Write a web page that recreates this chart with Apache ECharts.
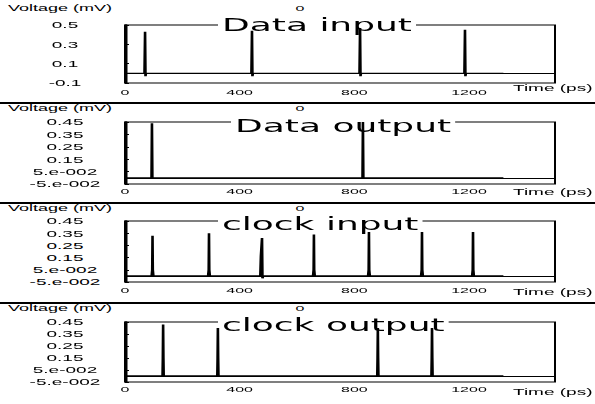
<!DOCTYPE html>
<html>
<head>
<meta charset="utf-8">
<script src="https://cdn.jsdelivr.net/npm/echarts@6/dist/echarts.min.js"></script>
<style>
html,body{margin:0;padding:0;background:#fff;overflow:hidden;}
#main{width:297.5px;height:404px;transform:scaleX(2);transform-origin:0 0;}
</style>
</head>
<body>
<div id="main"></div>
<script>
// ---- data (time in ps, voltage in mV) ----
const panelTitles = ['Data input', 'Data output', 'clock input', 'clock output'];

const dataInTime  = [0, 68, 70, 71.5, 73, 441, 443, 444.5, 446, 818, 820, 821.5, 823, 1184, 1186, 1187.5, 1189, 1320];
const dataInVolt  = [0, 0, 0.43, -0.03, 0, 0, 0.44, -0.03, 0, 0, 0.47, -0.03, 0, 0, 0.45, -0.03, 0, 0];

const dataOutTime = [0, 92.5, 94, 95.5, 828.5, 830, 831.5, 1320];
const dataOutVolt = [0, 0, 0.44, 0, 0, 0.45, 0, 0];

const clockInTime = [0, 93, 95, 96, 97, 99, 290, 292, 293, 294, 296,
                     472, 474, 477, 478, 479.5, 482, 656, 658, 659, 660, 662,
                     848, 850, 851, 852, 854, 1033, 1035, 1036, 1037, 1039,
                     1211, 1213, 1214, 1215, 1217, 1320];
const clockInVolt = [0, 0, 0.05, 0.33, 0.05, 0, 0, 0.05, 0.35, 0.05, 0,
                     0, 0.16, 0.16, 0.31, -0.02, 0, 0, 0.05, 0.34, 0.05, 0,
                     0, 0.05, 0.36, 0.05, 0, 0, 0.05, 0.36, 0.05, 0,
                     0, 0.05, 0.36, 0.05, 0, 0];

const clockOutTime = [0, 131, 132, 133, 134, 135, 322, 323, 324, 325, 326,
                      880, 881, 882, 883, 884, 1069, 1070, 1071, 1072, 1073, 1320];
const clockOutVolt = [0, 0, 0.15, 0.43, 0.15, 0, 0, 0.15, 0.40, 0.15, 0,
                      0, 0.15, 0.40, 0.15, 0, 0, 0.15, 0.40, 0.15, 0, 0];

const xTickValues = [0, 400, 800, 1200];
const xTickLabels = ['0', '400', '800', '1200'];
const yTickValuesA = [-0.1, 0.1, 0.3, 0.5];
const yTickLabelsA = ['-0.1', '0.1', '0.3', '0.5'];
const yTickValuesB = [-0.05, 0.05, 0.15, 0.25, 0.35, 0.45];
const yTickLabelsB = ['-5.e-002', '5.e-002', '0.15', '0.25', '0.35', '0.45'];

const xName = 'Time (ps)';
const yName = 'Voltage (mV)';

// ---- layout ----
const series = [
  [dataInTime, dataInVolt],
  [dataOutTime, dataOutVolt],
  [clockInTime, clockInVolt],
  [clockOutTime, clockOutVolt]
];
const grids = [
  {top: 25, height: 58},
  {top: 122, height: 62},
  {top: 221, height: 61},
  {top: 322, height: 60}
];
const yNameGap = [12.5, 9.5, 8.5, 9.5];
const xNamePad = [9.5, 8.5, 10.5, 10.5];
const xLabelMargin = [5, 3, 4, 3];
const titleLeft = [109, 115.5, 109, 109];
const titleTop = [15, 116, 214, 315];

function lookup(vals, labels) {
  return function (v) {
    for (let i = 0; i < vals.length; i++) {
      if (Math.abs(v - vals[i]) < 1e-6) return labels[i];
    }
    return '';
  };
}

const chart = echarts.init(document.getElementById('main'), null, {renderer: 'svg', width: 297.5, height: 404});
const labelFont = 'Liberation Sans';

const option = {
  backgroundColor: '#fff',
  animation: false,
  title: panelTitles.map((t, i) => ({
    text: t,
    left: titleLeft[i],
    top: titleTop[i],
    z: 1,
    padding: [1, 2, 1, 2],
    backgroundColor: '#fff',
    textStyle: {fontFamily: 'DejaVu Sans', fontSize: 18, fontWeight: 'normal', color: '#000'}
  })),
  grid: grids.map(g => ({
    left: 62.5, right: 20, top: g.top, height: g.height,
    show: true, borderColor: '#000', borderWidth: 1, backgroundColor: 'transparent',
    containLabel: false, outerBoundsMode: 'none'
  })),
  xAxis: grids.map((g, i) => ({
    type: 'value', gridIndex: i, min: 0, max: 1500, interval: 400,
    name: xName, nameLocation: 'end', nameGap: -21,
    nameTextStyle: {fontFamily: labelFont, fontSize: 9.5, color: '#000', align: 'left', verticalAlign: 'top', padding: [xNamePad[i], 0, 0, 0]},
    axisLine: {show: true, lineStyle: {color: '#000', width: 1}},
    axisTick: {show: false},
    splitLine: {show: false},
    axisLabel: {fontFamily: labelFont, fontSize: 8, color: '#000', margin: xLabelMargin[i],
      formatter: lookup(xTickValues, xTickLabels), showMaxLabel: false}
  })),
  yAxis: grids.map((g, i) => ({
    type: 'value', gridIndex: i,
    min: i === 0 ? -0.1 : -0.05,
    max: i === 0 ? 0.5 : 0.45,
    interval: i === 0 ? 0.2 : 0.1,
    name: yName, nameLocation: 'end', nameGap: yNameGap[i],
    nameTextStyle: {fontFamily: labelFont, fontSize: 9, color: '#000', align: 'right', verticalAlign: 'bottom', padding: [0, 6.5, 0, 0]},
    axisLine: {show: true, lineStyle: {color: '#000', width: 1.5}},
    axisTick: {show: true, inside: true, length: 2, lineStyle: {color: '#000'}},
    splitLine: {show: false},
    axisLabel: {fontFamily: labelFont, fontSize: 9.5, color: '#000', align: 'center', margin: 30,
      formatter: i === 0 ? lookup(yTickValuesA, yTickLabelsA) : lookup(yTickValuesB, yTickLabelsB)}
  })),
  series: series.map((s, i) => ({
    type: 'line', xAxisIndex: i, yAxisIndex: i,
    data: s[0].map((t, k) => [t, s[1][k]]),
    showSymbol: false, symbol: 'none',
    lineStyle: {color: '#000', width: 1.3},
    z: 3,
    clip: true
  })),
  graphic: [
    {type: 'line', shape: {x1: 0, y1: 103, x2: 297.5, y2: 103}, style: {stroke: '#000', lineWidth: 2}},
    {type: 'line', shape: {x1: 0, y1: 203, x2: 297.5, y2: 203}, style: {stroke: '#000', lineWidth: 2}},
    {type: 'line', shape: {x1: 0, y1: 303, x2: 297.5, y2: 303}, style: {stroke: '#000', lineWidth: 2}},
    {type: 'text', x: 150, y: 8, style: {text: '0', fontFamily: labelFont, fontSize: 8, fill: '#000', align: 'center', verticalAlign: 'middle'}},
    {type: 'text', x: 150, y: 108, style: {text: '0', fontFamily: labelFont, fontSize: 8, fill: '#000', align: 'center', verticalAlign: 'middle'}},
    {type: 'text', x: 150, y: 208, style: {text: '0', fontFamily: labelFont, fontSize: 8, fill: '#000', align: 'center', verticalAlign: 'middle'}},
    {type: 'text', x: 150, y: 308, style: {text: '0', fontFamily: labelFont, fontSize: 8, fill: '#000', align: 'center', verticalAlign: 'middle'}}
  ]
};
chart.setOption(option);
</script>
</body>
</html>
